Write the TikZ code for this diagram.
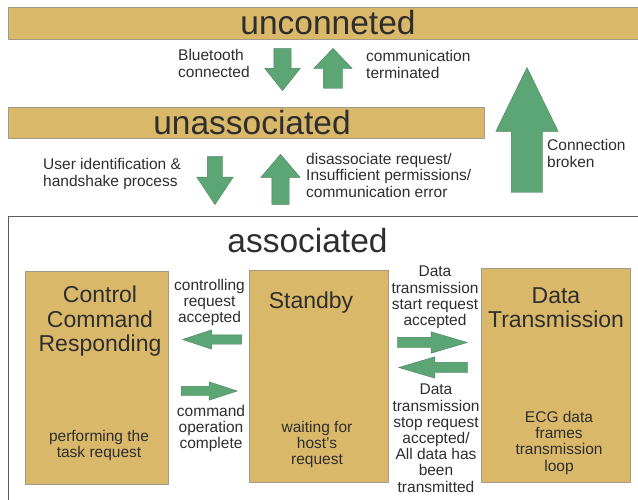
\documentclass[tikz,border=0pt]{standalone}
\usepackage{fontspec}
\setmainfont{Liberation Sans}
\usetikzlibrary{shapes.arrows}

\definecolor{statefill}{HTML}{D9B869}
\definecolor{stateedge}{HTML}{A39A8A}
\definecolor{flowgreen}{HTML}{5CA575}
\definecolor{ink}{HTML}{2E2E2E}
\definecolor{frame}{HTML}{5A5A5A}

\tikzset{
  bar/.style={draw=stateedge, line width=0.6pt, fill=statefill, inner sep=0pt, anchor=north west},
  statebox/.style={draw=stateedge, line width=0.6pt, fill=statefill, inner sep=0pt, anchor=north west},
  title/.style={font=\fontsize{33.5}{36}\selectfont, text=ink, inner sep=0pt},
  boxhead/.style={font=\fontsize{23}{24.5}\selectfont, text=ink, align=center, inner sep=0pt, anchor=north},
  boxnote/.style={font=\fontsize{15.5}{16.2}\selectfont, text=ink, align=center, inner sep=0pt, anchor=north},
  sidenote/.style={font=\fontsize{15.5}{17}\selectfont, text=ink, align=left, inner sep=0pt, anchor=north west},
  flow/.style={single arrow, fill=flowgreen, draw=flowgreen!80!black, line width=0.4pt,
    inner xsep=0pt, single arrow head indent=0pt, anchor=tip},
  % length, head width, shaft width, tip angle
  flowsize/.style n args={4}{minimum height=#1, inner ysep={(#3)/2},
    single arrow head extend={(#2-#3)/2}, single arrow tip angle=#4},
}

\begin{document}
\begin{tikzpicture}[x=1pt, y=-1pt]
\clip (0,0) rectangle (638,500);
\fill[white] (0,0) rectangle (638,500);

% top level states
\node[bar, minimum width=640, minimum height=32] (unconn) at (8,7) {};
\node[title] (unconntext) at (328,23) {unconneted};

\node[bar, minimum width=476, minimum height=31] (unassoc) at (8,107) {};
\node[title] (unassoctext) at (252,122.5) {unassociated};

% associated container
\node[draw=frame, line width=1.1pt, fill=white, inner sep=0pt, anchor=north west,
      minimum width=640, minimum height=300] (assoc) at (8,216) {};
\node[title] (assoctext) at (307.5,241) {associated};

% transitions between unconnected and unassociated (placed by their tips)
\node[flow, rotate=-90, flowsize={42}{35}{17}{77}] (btdown) at (282.5,91) {};
\node[flow, rotate=90,  flowsize={40}{38}{19}{87}] (termup) at (333,48) {};
\node[sidenote] (btlabel) at (178,49) {Bluetooth\\connected};
\node[sidenote] (termlabel) at (366,50) {communication\\terminated};

% transitions between unassociated and associated
\node[flow, rotate=-90, flowsize={48}{36}{15}{67}] (hsdown) at (215,205) {};
\node[flow, rotate=90,  flowsize={50}{39}{17}{81}] (disup) at (280.5,154) {};
\node[sidenote] (hslabel) at (43,158) {User identification \&\\handshake process};
\node[sidenote, font=\fontsize{15.5}{16.3}\selectfont] (dislabel) at (306,153)
  {disassociate request/\\Insufficient permissions/\\communication error};

% connection lost
\node[flow, rotate=90, flowsize={125}{62}{31}{52}] (brokenup) at (527,67) {};
\node[sidenote] (brokenlabel) at (547,139) {Connection\\broken};

% associated sub-states
\node[statebox, minimum width=143, minimum height=213] (ctrl) at (25,271) {};
\node[boxhead] (ctrlhead) at (100,286) {Control\\Command\\Responding};
\node[boxnote] (ctrlnote) at (99,430) {performing the\\task request};

\node[statebox, minimum width=139, minimum height=212] (standby) at (249,270) {};
\node[boxhead] (standbyhead) at (311,292) {Standby};
\node[boxnote] (standbynote) at (317,421) {waiting for\\host's\\request};

\node[statebox, minimum width=149, minimum height=214] (data) at (481,268) {};
\node[boxhead] (datahead) at (556,287) {Data\\Transmission};
\node[boxnote] (datanote) at (559,411) {ECG data\\frames\\transmission\\loop};

% transitions inside associated
\node[flow, rotate=180, flowsize={59}{19}{9}{37}] (ctrlin) at (182,339.5) {};
\node[flow, flowsize={56}{18}{9}{36}] (ctrlout) at (238,391) {};
\node[boxnote] (ctrlinlabel) at (209.5,279) {controlling\\request\\accepted};
\node[boxnote] (ctrloutlabel) at (211,405) {command\\operation\\complete};

\node[flow, flowsize={70}{21}{10}{33}] (datain) at (468,342.5) {};
\node[flow, rotate=180, flowsize={69}{21}{10}{33}] (dataout) at (398,367.5) {};
\node[boxnote] (datainlabel) at (435,266) {Data\\transmission\\start request\\accepted};
\node[boxnote] (dataoutlabel) at (436,384)
  {Data\\transmission\\stop request\\accepted/\\All data has\\been\\transmitted};
\end{tikzpicture}
\end{document}
